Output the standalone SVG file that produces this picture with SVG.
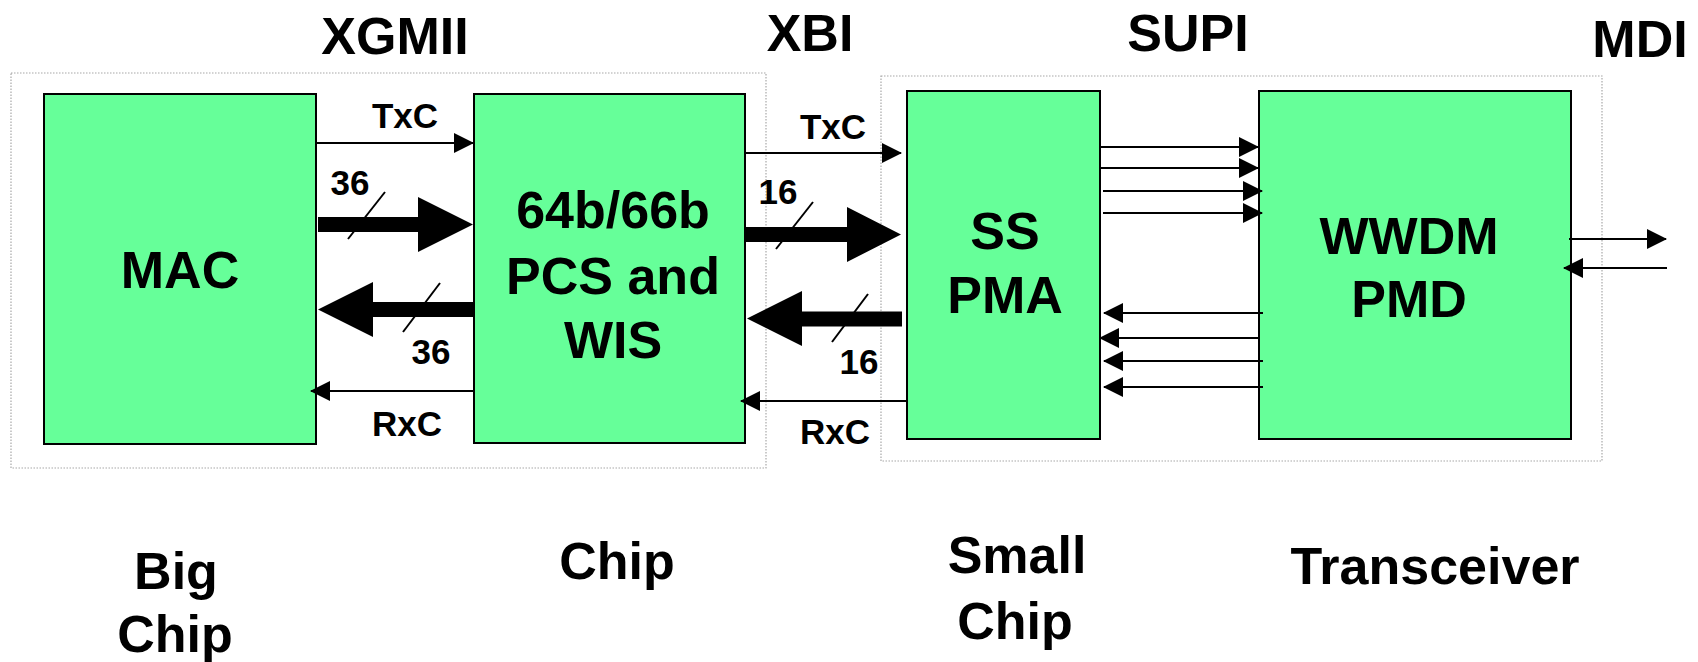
<svg xmlns="http://www.w3.org/2000/svg" width="1698" height="662" viewBox="0 0 1698 662">
<style>
text{font-family:"Liberation Sans",Arial,sans-serif;font-weight:bold;fill:#000;text-anchor:middle}
.big{font-size:52px}
.sm{font-size:35px}
.box{fill:#66FF99;stroke:#000;stroke-width:2}
.grp{fill:none;stroke:#a8a8a8;stroke-width:1.2;stroke-dasharray:1.5 1.5}
.ln{stroke:#000;stroke-width:2;fill:none;marker-end:url(#ah)}
.sl{stroke:#000;stroke-width:2}
.thick{fill:#000}
</style>
<defs>
<marker id="ah" markerUnits="userSpaceOnUse" markerWidth="20" markerHeight="20" refX="19" refY="10" orient="auto">
<path d="M0,0 L20,10 L0,20 Z" fill="#000"/>
</marker>
</defs>
<g id="groups">
<rect class="grp" x="11" y="73" width="755" height="395"/>
<rect class="grp" x="881" y="76" width="721" height="385"/>
</g>
<g id="interface-labels">
<text class="big" x="395" y="54">XGMII</text>
<text class="big" x="810" y="51">XBI</text>
<text class="big" x="1188" y="51">SUPI</text>
<text class="big" x="1640" y="57">MDI</text>
</g>
<g id="mac">
<rect class="box" x="44" y="94" width="272" height="350"/>
<text class="big" x="180" y="288">MAC</text>
</g>
<g id="pcs">
<rect class="box" x="474" y="94" width="271" height="349"/>
<text class="big" x="613" y="228">64b/66b</text>
<text class="big" x="613" y="294">PCS and</text>
<text class="big" x="613" y="358">WIS</text>
</g>
<g id="pma">
<rect class="box" x="907" y="91" width="193" height="348"/>
<text class="big" x="1005" y="249">SS</text>
<text class="big" x="1005" y="313">PMA</text>
</g>
<g id="pmd">
<rect class="box" x="1259" y="91" width="312" height="348"/>
<text class="big" x="1409" y="254">WWDM</text>
<text class="big" x="1409" y="317">PMD</text>
</g>
<g id="connectors">
<line class="ln" x1="316" y1="143" x2="473" y2="143"/>
<line class="ln" x1="474" y1="391" x2="311" y2="391"/>
<line class="ln" x1="745" y1="153" x2="901" y2="153"/>
<line class="ln" x1="907" y1="401" x2="741" y2="401"/>
<polygon class="thick" points="318,217 418,217 418,197 473,224.5 418,252 418,232 318,232"/>
<polygon class="thick" points="474,302 373,302 373,282 318,309.5 373,337 373,317 474,317"/>
<polygon class="thick" points="745,227 847,227 847,207 901,234.5 847,262 847,242 745,242"/>
<polygon class="thick" points="902,311.5 802,311.5 802,291 747,318.5 802,346 802,326.5 902,326.5"/>
<line class="sl" x1="348" y1="239" x2="385" y2="192"/>
<line class="sl" x1="403" y1="332" x2="440" y2="283"/>
<line class="sl" x1="776" y1="249" x2="813" y2="202"/>
<line class="sl" x1="832" y1="342" x2="868" y2="294"/>
<line class="ln" x1="1099" y1="147" x2="1258" y2="147"/>
<line class="ln" x1="1099" y1="168" x2="1258" y2="168"/>
<line class="ln" x1="1103" y1="191" x2="1262" y2="191"/>
<line class="ln" x1="1103" y1="213" x2="1262" y2="213"/>
<line class="ln" x1="1263" y1="313" x2="1104" y2="313"/>
<line class="ln" x1="1259" y1="338" x2="1100" y2="338"/>
<line class="ln" x1="1263" y1="361" x2="1104" y2="361"/>
<line class="ln" x1="1263" y1="387" x2="1104" y2="387"/>
<line class="ln" x1="1569" y1="239" x2="1666" y2="239"/>
<line class="ln" x1="1667" y1="268" x2="1564" y2="268"/>
<text class="sm" x="405" y="128">TxC</text>
<text class="sm" x="350" y="195">36</text>
<text class="sm" x="431" y="364">36</text>
<text class="sm" x="407" y="436">RxC</text>
<text class="sm" x="833" y="139">TxC</text>
<text class="sm" x="778" y="204">16</text>
<text class="sm" x="859" y="374">16</text>
<text class="sm" x="835" y="444">RxC</text>
</g>
<g id="bottom-labels">
<text class="big" x="176" y="589">Big</text>
<text class="big" x="175" y="652">Chip</text>
<text class="big" x="617" y="579">Chip</text>
<text class="big" x="1017" y="573">Small</text>
<text class="big" x="1015" y="639">Chip</text>
<text class="big" x="1435" y="584">Transceiver</text>
</g>
</svg>
